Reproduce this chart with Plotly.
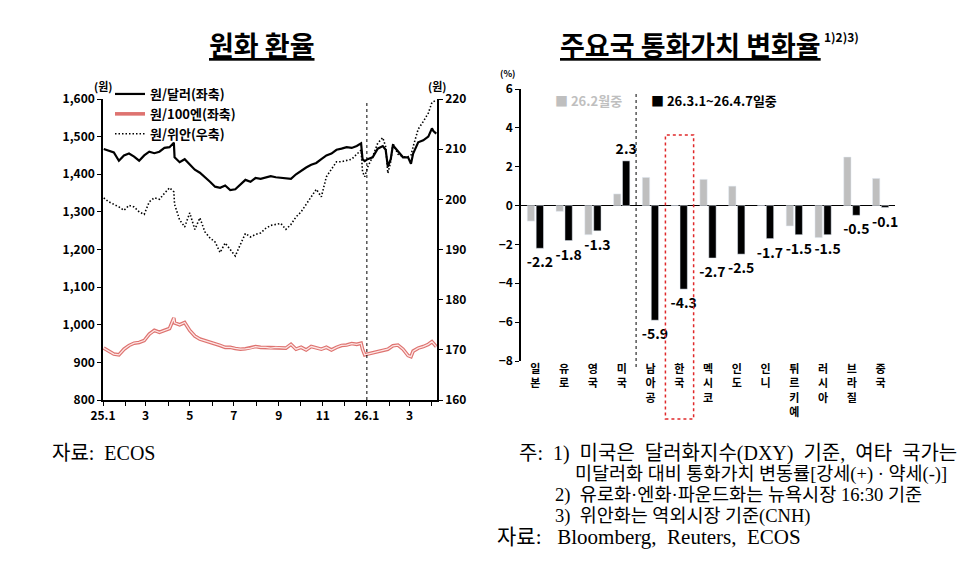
import plotly.graph_objects as go

# ── data: left panel (원화 환율) ────────────────────────────────────────────────
dates = [
    "2025-01-02", "2025-01-09", "2025-01-16", "2025-01-23", "2025-01-30",
    "2025-02-06", "2025-02-13", "2025-02-20", "2025-02-27",
    "2025-03-06", "2025-03-13", "2025-03-20", "2025-03-27",
    "2025-04-03", "2025-04-09", "2025-04-10", "2025-04-17", "2025-04-24",
    "2025-05-01", "2025-05-08", "2025-05-15", "2025-05-22", "2025-05-29",
    "2025-06-05", "2025-06-12", "2025-06-19", "2025-06-26",
    "2025-07-03", "2025-07-10", "2025-07-17", "2025-07-24", "2025-07-31",
    "2025-08-07", "2025-08-14", "2025-08-21", "2025-08-28",
    "2025-09-04", "2025-09-11", "2025-09-18", "2025-09-25",
    "2025-10-02", "2025-10-09", "2025-10-16", "2025-10-23", "2025-10-30",
    "2025-11-06", "2025-11-13", "2025-11-20", "2025-11-27",
    "2025-12-04", "2025-12-11", "2025-12-18", "2025-12-24", "2025-12-26", "2025-12-29",
    "2026-01-02", "2026-01-09", "2026-01-16", "2026-01-23", "2026-01-27", "2026-01-30",
    "2026-02-03", "2026-02-06", "2026-02-13", "2026-02-20", "2026-02-27",
    "2026-03-03", "2026-03-06", "2026-03-13", "2026-03-20", "2026-03-27",
    "2026-04-01", "2026-04-03", "2026-04-07",
]
krw_usd = [
    1467, 1462, 1458, 1436, 1450,
    1455, 1447, 1436, 1450,
    1460, 1456, 1460, 1470,
    1472, 1484, 1445, 1432, 1440,
    1425, 1412, 1404, 1393, 1380,
    1367, 1364, 1370, 1358,
    1360, 1373, 1385, 1380, 1390,
    1388, 1392, 1395, 1392,
    1390, 1390, 1388, 1400,
    1410, 1418, 1425, 1430, 1440,
    1450, 1455, 1465, 1468,
    1472, 1470, 1475, 1482, 1440, 1435,
    1440, 1445, 1468, 1475, 1465, 1420,
    1440, 1477, 1460, 1445, 1445,
    1428, 1455, 1485, 1490, 1500,
    1522, 1515, 1508,
]
krw_jpy100 = [
    938, 929, 922, 920, 935,
    945, 951, 953, 958,
    975, 985, 980, 984,
    990, 1018, 1005, 1000, 1006,
    985, 970, 962, 958, 955,
    950, 945, 940, 940,
    937, 935, 936, 938, 942,
    940, 940, 938, 940,
    938, 938, 948, 935,
    940, 933, 942, 938, 935,
    940, 933, 940, 945,
    946, 950, 948, 951, 935, 920,
    922, 925, 928, 930, 933, 935,
    940, 944, 946, 935, 918,
    915, 930, 938, 942, 948,
    955, 950, 942,
]
krw_cny = [
    200.3, 199.5, 199.0, 198.5, 197.8,
    198.8, 198.5, 197.5, 197.0,
    199.5, 200.3, 200.0, 201.2,
    202.3, 201.5, 199.0, 195.9, 194.5,
    197.3, 194.0, 196.3, 193.5, 192.3,
    191.5, 189.4, 191.3, 190.0,
    188.7, 191.0, 193.2, 192.5, 193.0,
    193.3, 194.2, 194.8, 195.0,
    195.2, 194.0, 195.0, 196.5,
    197.5, 199.0, 200.5, 202.0, 200.5,
    204.5, 206.0, 207.5, 207.5,
    207.8, 208.0, 209.0, 209.8, 205.5, 204.5,
    206.4, 208.5, 211.2, 212.3, 210.5, 205.2,
    207.5, 211.2, 209.0, 208.5, 208.5,
    208.8, 210.5, 214.0, 215.5, 217.2,
    219.3, 219.5, 219.8,
]
month_ticks = [
    "2025-01-01", "2025-02-01", "2025-03-01", "2025-04-01", "2025-05-01",
    "2025-06-01", "2025-07-01", "2025-08-01", "2025-09-01", "2025-10-01",
    "2025-11-01", "2025-12-01", "2026-01-01", "2026-02-01", "2026-03-01",
    "2026-04-01",
]
month_labels = ["25.1", "", "3", "", "5", "", "7", "", "9", "", "11", "",
                "26.1", "", "3", ""]

# ── data: right panel (주요국 통화가치 변화율) ────────────────────────────────
countries = ["일본", "유로", "영국", "미국", "남아공", "한국", "멕시코",
             "인도", "인니", "튀르키예", "러시아", "브라질", "중국"]
chg_feb = [-0.8, -0.3, -1.5, 0.6, 1.45, 0.0, 1.35, 1.0, 0.0, -1.05, -1.65, 2.5, 1.4]
chg_mar_apr = [-2.2, -1.8, -1.3, 2.3, -5.9, -4.3, -2.7, -2.5, -1.7, -1.5, -1.5, -0.5, -0.1]

W, H = 978, 579
# page body adds an 8px offset, so positions are taken 8px up/left
px = lambda x: (x - 8) / W
py = lambda y: 1 - (y - 8) / H

FONT = "Noto Sans CJK KR, Noto Sans, sans-serif"
SERIF = "Liberation Serif, Noto Sans CJK KR, serif"

fig = go.Figure()

# left panel lines
fig.add_trace(go.Scatter(
    x=dates, y=krw_usd, mode="lines", name="원/달러(좌축)",
    line=dict(color="black", width=2.2), xaxis="x", yaxis="y",
))
fig.add_trace(go.Scatter(
    x=dates, y=krw_jpy100, mode="lines", name="원/100엔(좌축)",
    line=dict(color="#de7370", width=3.6), xaxis="x", yaxis="y",
))
fig.add_trace(go.Scatter(
    x=dates, y=krw_jpy100, mode="lines", showlegend=False, hoverinfo="skip",
    line=dict(color="#fde6e5", width=1.3), xaxis="x", yaxis="y",
))
fig.add_trace(go.Scatter(
    x=dates, y=krw_cny, mode="lines", name="원/위안(우축)",
    line=dict(color="black", width=1.6, dash="1.5px,2px"), xaxis="x", yaxis="y2",
))

# right panel bars
fig.add_trace(go.Bar(
    x=countries, y=chg_feb, name="26.2월중", marker_color="#bfbfbf",
    showlegend=False, xaxis="x3", yaxis="y3",
))
fig.add_trace(go.Bar(
    x=countries, y=chg_mar_apr, name="26.3.1~26.4.7일중", marker_color="black",
    text=[f"{v:.1f}" for v in chg_mar_apr], textposition="outside",
    constraintext="none",
    textfont=dict(family=FONT, size=14, color="black", weight="bold"),
    cliponaxis=False, showlegend=False, xaxis="x3", yaxis="y3",
))

axis_font = dict(family=FONT, size=12, color="black", weight="bold")

fig.update_layout(
    width=W, height=H,
    margin=dict(l=0, r=0, t=0, b=0, autoexpand=False),
    plot_bgcolor="white", paper_bgcolor="white",
    font=dict(family=FONT, color="black"),
    barmode="group", bargap=0.38, bargroupgap=0.18,
    xaxis=dict(
        domain=[px(103), px(437)], anchor="y", type="date", automargin=False,
        range=["2025-01-01", "2026-04-08"],
        tickvals=month_ticks, ticktext=month_labels,
        ticks="outside", ticklen=4, tickcolor="black",
        showline=True, linecolor="black", linewidth=1.5,
        showgrid=False, zeroline=False, tickfont=axis_font,
    ),
    yaxis=dict(
        domain=[py(400), py(99)], anchor="x", range=[800, 1600], dtick=100,
        automargin=False,
        tickformat=",", ticks="outside", ticklen=4, tickcolor="black",
        showline=True, linecolor="black", linewidth=1.5,
        showgrid=False, zeroline=False, tickfont=axis_font,
    ),
    yaxis2=dict(
        overlaying="y", side="right", anchor="x", range=[160, 220], dtick=10,
        automargin=False,
        ticks="outside", ticklen=4, tickcolor="black",
        showline=True, linecolor="black", linewidth=1.5,
        showgrid=False, zeroline=False, tickfont=axis_font,
    ),
    xaxis3=dict(
        domain=[px(521), px(895)], anchor="y3", automargin=False,
        showline=False, ticks="", showgrid=False,
        tickvals=countries,
        ticktext=["<br>".join(c) for c in countries],
        tickfont=dict(family=FONT, size=11, color="black", weight="bold"),
    ),
    yaxis3=dict(
        domain=[py(361), py(89)], anchor="x3", range=[-8, 6], dtick=2,
        automargin=False,
        ticks="outside", ticklen=4, tickcolor="black",
        showline=True, linecolor="black", linewidth=1.5,
        showgrid=False, zeroline=True, zerolinecolor="black", zerolinewidth=1.2,
        tickfont=axis_font,
    ),
    legend=dict(
        x=px(110), y=py(79), xanchor="left", yanchor="top",
        bgcolor="rgba(0,0,0,0)", tracegroupgap=0, itemwidth=30,
        font=dict(family=FONT, size=13, color="black", weight="bold"),
    ),
)

# dotted separators and highlight box
fig.add_shape(type="line", xref="x", yref="y", x0="2026-01-01", x1="2026-01-01",
              y0=800, y1=1590, line=dict(color="black", width=1, dash="dot"))
fig.add_shape(type="line", xref="x3", yref="paper", x0=3.5, x1=3.5,
              y0=py(367), y1=py(92), line=dict(color="black", width=1, dash="dot"))
fig.add_shape(type="rect", xref="x3", yref="paper", x0=4.52, x1=5.5,
              y0=py(419), y1=py(135), line=dict(color="#e0282a", width=1.5, dash="dot"))

annotations = [
    dict(x=px(262), y=py(44), text="<b><u>원화 환율</u></b>", font=dict(size=27)),
    dict(x=px(558), y=py(44), xanchor="left",
         text="<b><u>주요국 통화가치 변화율</u></b>", font=dict(size=27)),
    dict(x=px(822), y=py(37), xanchor="left", text="<b>1)2)3)</b>", font=dict(size=12)),
    dict(x=px(103), y=py(86), text="<b>(원)</b>", font=dict(size=11)),
    dict(x=px(437), y=py(86), text="<b>(원)</b>", font=dict(size=11)),
    dict(x=px(507), y=py(73), text="<b>(%)</b>", font=dict(size=9)),
    dict(x=px(553), y=py(100), xanchor="left",
         text="<b>■ 26.2월중</b>", font=dict(size=13, color="#bfbfbf")),
    dict(x=px(649), y=py(100), xanchor="left",
         text="<b>■ 26.3.1~26.4.7일중</b>", font=dict(size=13, color="black")),
    dict(x=px(50), y=py(453), xanchor="left", text="자료:  ECOS",
         font=dict(family=SERIF, size=20)),
    dict(x=px(517), y=py(453), xanchor="left",
         text="주:  1)  미국은  달러화지수(DXY)  기준,  여타  국가는",
         font=dict(family=SERIF, size=20)),
    dict(x=px(573), y=py(474), xanchor="left",
         text="미달러화 대비 통화가치 변동률[강세(+) · 약세(-)]",
         font=dict(family=SERIF, size=18.5)),
    dict(x=px(553), y=py(495), xanchor="left",
         text="2)  유로화·엔화·파운드화는 뉴욕시장 16:30 기준",
         font=dict(family=SERIF, size=18.6)),
    dict(x=px(553), y=py(516), xanchor="left",
         text="3)  위안화는 역외시장 기준(CNH)",
         font=dict(family=SERIF, size=18.5)),
    dict(x=px(495), y=py(537), xanchor="left",
         text="자료:   Bloomberg,  Reuters,  ECOS",
         font=dict(family=SERIF, size=21)),
]
for a in annotations:
    a.setdefault("xanchor", "center")
    fig.add_annotation(xref="paper", yref="paper", showarrow=False,
                       yanchor="middle", **a)

fig.write_html("out.html")
